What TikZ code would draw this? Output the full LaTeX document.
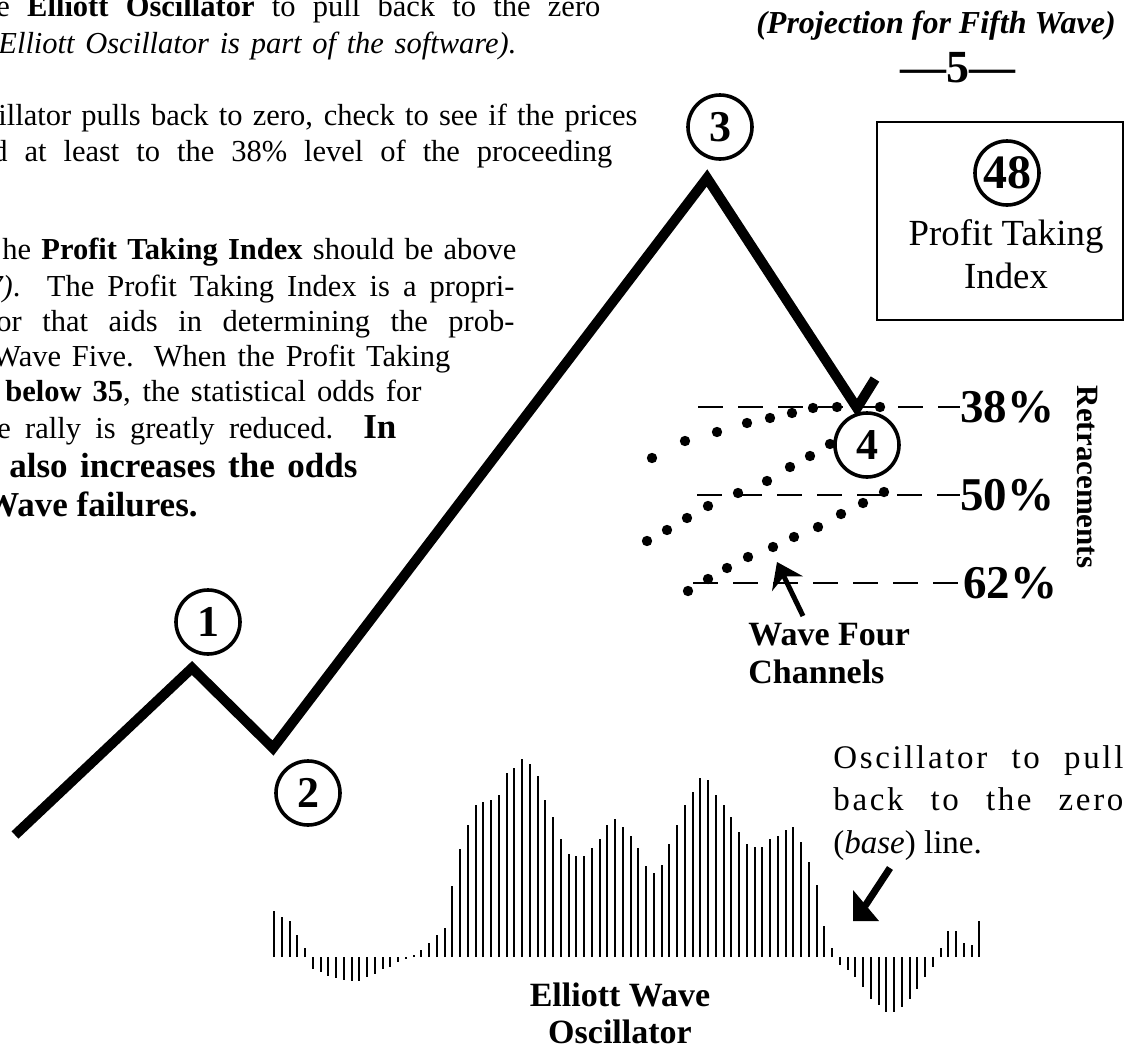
\documentclass[tikz,border=0pt]{standalone}
\usepackage{fontspec}
\setmainfont{Liberation Serif}
\usetikzlibrary{arrows.meta,positioning}
\tikzstyle{wavenum}=[circle, draw, line width=1.8pt, minimum size=32pt, inner sep=0pt, font=\fontsize{22}{22}\selectfont\bfseries]
\tikzstyle{body}=[inner sep=0pt, anchor=base west, font=\fontsize{15.25}{19}\selectfont]
\tikzstyle{note}=[inner sep=0pt, anchor=base west, font=\fontsize{16.5}{21}\selectfont]
\tikzstyle{pct}=[inner sep=0pt, anchor=west, font=\fontsize{23.5}{24}\selectfont\bfseries]
\tikzstyle{boldlabel}=[inner sep=0pt, anchor=base west, font=\fontsize{17}{19}\selectfont\bfseries]
\tikzstyle{ptitext}=[inner sep=0pt, anchor=base, font=\fontsize{18.4}{21}\selectfont]
\tikzstyle{retline}=[line width=1pt, dash pattern=on 12.5pt off 7.5pt]
\tikzstyle{waveline}=[line width=5pt]
\tikzstyle{oscbar}=[line width=1pt]
\tikzstyle{chanarrow}=[line width=2.5pt, -{Stealth[length=12pt, width=17pt, inset=4pt]}]
\newcommand{\wavenum}{\node[wavenum]}
\newcommand{\bigbf}[1]{{\fontsize{17.5}{22}\selectfont\bfseries #1}}

\begin{document}
\begin{tikzpicture}[x=0.5pt, y=-0.5pt]
\useasboundingbox (0,0) rectangle (1137,1050);
\clip (0,0) rectangle (1137,1050);

% text running in from the left
\node[body] (t1) at (-4,16) {\makebox[302pt][s]{e \textbf{Elliott Oscillator} to pull back to the zero}};
\node[body] (t2) at (-2,53) {\makebox[259pt][s]{\itshape Elliott Oscillator is part of the software).}};
\node[body] (t3) at (-2,125) {\makebox[319.5pt][s]{illator pulls back to zero, check to see if the prices}};
\node[body] (t4) at (-8,161) {\makebox[310pt][s]{d at least to the 38\% level of the proceeding}};
\node[body] (t5) at (2,259) {\makebox[257pt][s]{he \textbf{Profit Taking Index} should be above}};
\node[body] (t6) at (-13,296) {\makebox[263.5pt][s]{\textit{7)}. The Profit Taking Index is a propri-}};
\node[body] (t7) at (-4,331) {\makebox[259pt][s]{or that aids in determining the prob-}};
\node[body] (t8) at (-8,366) {\makebox[229pt][s]{Wave Five. When the Profit Taking}};
\node[body] (t9) at (5,401) {\makebox[208pt][s]{\textbf{below 35}, the statistical odds for}};
\node[body] (t10) at (-3,438) {\makebox[199.5pt][s]{e rally is greatly reduced. \bigbf{In}}};
\node[body] (t11) at (9,477) {\makebox[174pt][s]{\bigbf{also increases the odds}}};
\node[body] (t12) at (-16,516) {\bigbf{Wave failures.}};

% fifth wave projection
\node[inner sep=0pt, anchor=base, font=\fontsize{16}{16}\selectfont\bfseries\itshape] (proj) at (936,33) {(Projection for Fifth Wave)};
\node[inner sep=0pt, anchor=base, font=\fontsize{23}{24}\selectfont\bfseries] (five) at (958,82) {—5—};
\node[draw, line width=0.9pt, minimum width=123pt, minimum height=99pt] (pti) at (1000,221) {};
\wavenum[font=\fontsize{24}{24}\selectfont\bfseries] (c48) at (1007,173) {48};
\node[ptitext] (ptl1) at (1006,245) {Profit Taking};
\node[ptitext] (ptl2) at (1006,288) {Index};

% the wave
\coordinate (w0) at (15,835);
\coordinate (w1) at (192,668);
\coordinate (w2) at (273,748);
\coordinate (w3) at (707,178);
\coordinate (w4) at (857,408);
\coordinate (wb) at (875,379);
\draw[waveline] (w0) -- (w1) -- (w2) -- (w3) -- (w4) -- (wb);
\wavenum (c1) at (208,622) {1};
\wavenum (c2) at (308,793) {2};
\wavenum (c3) at (720,127) {3};

% retracement levels
\coordinate (r38) at (698,407);
\coordinate (r50) at (697,495);
\coordinate (r62) at (693,583);
\node[pct] (p38) at (960,407) {38\%};
\node[pct] (p50) at (960,495) {50\%};
\node[pct] (p62) at (963,583) {62\%};
\draw[retline] (r38) -- (p38);
\draw[retline] (r50) -- (p50);
\draw[retline] (r62) -- (p62);
\node[rotate=-90, inner sep=0pt, font=\fontsize{15.5}{16}\selectfont\bfseries] (ret) at (1087,477) {Retracements};

% wave four channels
\foreach \p in {(652,458),(685,441),(717,432),(747,423),(770,418),(792,413),(813,408),(837,407),(880,407)}
  \fill \p circle (2.6pt);
\foreach \p in {(647,541),(667,530),(687,518),(708,506),(738,493),(767,481),(790,467),(810,456),(830,444)}
  \fill \p circle (2.6pt);
\foreach \p in {(688,591),(708,579),(727,568),(748,557),(773,547),(794,537),(818,527),(841,514),(863,503),(884,492)}
  \fill \p circle (2.6pt);
\node[wavenum, fill=white] (c4) at (867,445) {4};
\node[boldlabel] (ch1) at (748,645) {Wave Four};
\node[boldlabel] (ch2) at (748,683) {Channels};
\coordinate (chfoot) at (803,616);
\coordinate (chtip) at (777,562);
\draw[chanarrow] (chfoot) -- (chtip);

% oscillator
\foreach \h [count=\i from 0] in {46,40,36,22,9,-12,-15,-19,-21,-23,-24,-24,-20,-17,-12,-10,-5,-2,2,7,14,22,29,71,108,132,152,155,157,162,184,189,198,193,181,157,140,118,103,101,101,109,118,132,138,130,121,109,91,84,92,113,132,152,165,179,177,162,152,140,125,113,110,110,118,121,127,130,115,95,72,31,9,-8,-13,-20,-30,-42,-48,-55,-55,-50,-42,-32,-20,-10,9,26,26,14,12,36}
  \draw[oscbar] ({274+7.75*\i},957) -- ++(0,{-1*\h});
\node[boldlabel, anchor=base] (on1) at (620,1006) {Elliott Wave};
\node[boldlabel, anchor=base] (on2) at (620,1043) {Oscillator};

% note on the right
\node[note] (n1) at (833,768) {\addfontfeature{LetterSpace=8}\makebox[145pt][s]{Oscillator to pull}};
\node[note] (n2) at (833,810) {\addfontfeature{LetterSpace=8}\makebox[145pt][s]{back to the zero}};
\node[note] (n3) at (833,853) {(\textit{base}) line.};
\coordinate (pt0) at (890,868);
\coordinate (pt1) at (865,906);
\draw[line width=3.5pt] (pt0) -- (pt1);
\fill (853,890) -- (879,921) -- (853,921) -- cycle;
\end{tikzpicture}
\end{document}
